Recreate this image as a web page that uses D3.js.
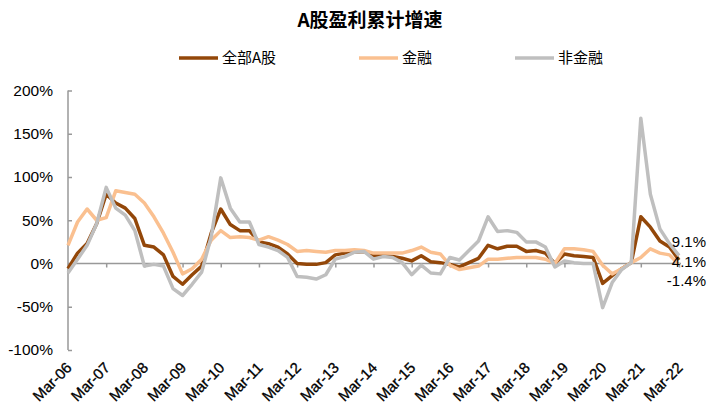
<!DOCTYPE html>
<html><head><meta charset="utf-8">
<script src="https://cdn.jsdelivr.net/npm/d3@7"></script>
<style>
body{margin:0;background:#fff;}
text{font-family:"Liberation Sans",Arial,sans-serif;}
.cjk{font-family:"Noto Sans CJK SC","Liberation Sans",sans-serif;}
</style></head>
<body><svg id="c" width="716" height="420"></svg>
<script>
const years = ["06","07","08","09","10","11","12","13","14","15","16","17","18","19","20","21","22"];
const qMonths = ["Mar","Jun","Sep","Dec"];
const categories = [];
years.forEach((y,i)=>{ qMonths.forEach((m,j)=>{ if(i<years.length-1 || j===0) categories.push(m+"-"+y); }); });
const tickLabels = years.map(y=>"Mar-"+y);

const seriesNames = ["全部A股","金融","非金融"];
const allA = [-6,12,23,46,80,70,64,52,21,19,10,-15,-24,-13,-3,35,63,45,38,38,25,23,19,11,0,-1,-1,1,10,12,13,14,9,9,8,6,3,9,2,1,-1,-4,1,6,21,17,20,20,14,15,12,0,11,9,8,7,-23,-14,-6,1,54,42,26,19,4.1];
const fin = [21,48,63,50,53,84,82,80,70,54,35,13,-12,-6,5,27,38,30,31,30,27,31,27,22,14,15,14,13,15,15,16,15,12,12,12,12,15,19,13,11,-2,-7,-5,-3,5,5,6,7,7,7,5,0,17,17,16,14,-2,-12,-6,1,7,17,12,10,-1.4];
const nonFin = [-11,5,21,46,88,64,56,38,-3,-1,-3,-29,-37,-24,-10,31,99,64,48,48,22,19,15,7,-15,-16,-18,-13,5,8,13,14,5,8,7,1,-13,-2,-11,-12,7,4,15,26,54,37,38,36,25,25,19,-4,3,1,0,0,-51,-22,-7,1,168,80,40,23,9.1];
const yTicks = [-100,-50,0,50,100,150,200];
const endLabels = ["9.1%","4.1%","-1.4%"];

const colors = ["#934709","#FAC090","#BFBFBF"];
const svg = d3.select("#c");
const x = d3.scalePoint().domain(categories).range([68,679]);
const y = d3.scaleLinear().domain([-100,200]).range([350,90.5]);

// title
svg.append("text").attr("class","cjk").attr("x",370).attr("y",20).attr("dy","0.35em")
  .attr("text-anchor","middle").attr("font-size",19).attr("font-weight","bold").attr("fill","#000")
  .text("A股盈利累计增速");

// legend
const legX = [179,359,515];
seriesNames.forEach((n,i)=>{
  const g = svg.append("g").attr("transform",`translate(${legX[i]},58)`);
  g.append("line").attr("x1",0).attr("x2",39).attr("y1",0).attr("y2",0)
    .attr("stroke",colors[i]).attr("stroke-width",3.5);
  g.append("text").attr("class","cjk").attr("x",43).attr("dy","0.35em").attr("font-size",15).attr("fill","#000").text(n);
});

// y axis
const yAxis = svg.append("g").attr("transform","translate(68,0)")
  .call(d3.axisLeft(y).tickValues(yTicks).tickSize(-4).tickPadding(15).tickFormat(d=>d+"%"));
yAxis.selectAll("path,line").attr("stroke","#999").attr("stroke-width",1.5);
yAxis.select(".domain").attr("d","M0,"+y(-100)+"V"+y(200));
yAxis.selectAll("text").attr("font-size",15.5).attr("fill","#000").attr("font-family","Liberation Sans, Arial, sans-serif");

// x axis at 0
const xAxis = svg.append("g").attr("transform",`translate(0,${y(0)})`)
  .call(d3.axisBottom(x).tickValues(tickLabels).tickSize(4).tickFormat(""));
xAxis.selectAll("path,line").attr("stroke","#999").attr("stroke-width",1.5);
xAxis.select(".domain").attr("d","M68,0H681");

// x labels at bottom
svg.append("g").selectAll("text").data(tickLabels).join("text")
  .attr("transform",d=>`translate(${x(d)+1},365) rotate(-45)`)
  .attr("text-anchor","end").attr("dy","0.35em").attr("font-size",15).attr("fill","#000")
  .attr("stroke","#000").attr("stroke-width",0.3).text(d=>d);

// lines
const line = d3.line().x((d,i)=>x(categories[i])).y(d=>y(d));
[allA,fin,nonFin].forEach((s,i)=>{
  svg.append("path").datum(s).attr("d",line).attr("fill","none")
    .attr("stroke",colors[i]).attr("stroke-width",3.5).attr("stroke-linejoin","round");
});

// end labels
const endY = [241.7,261.5,281];
endLabels.forEach((t,i)=>{
  svg.append("text").attr("x",706).attr("y",endY[i]).attr("dy","0.35em").attr("text-anchor","end")
    .attr("font-size",15).attr("fill","#000").text(t);
});
</script></body></html>
